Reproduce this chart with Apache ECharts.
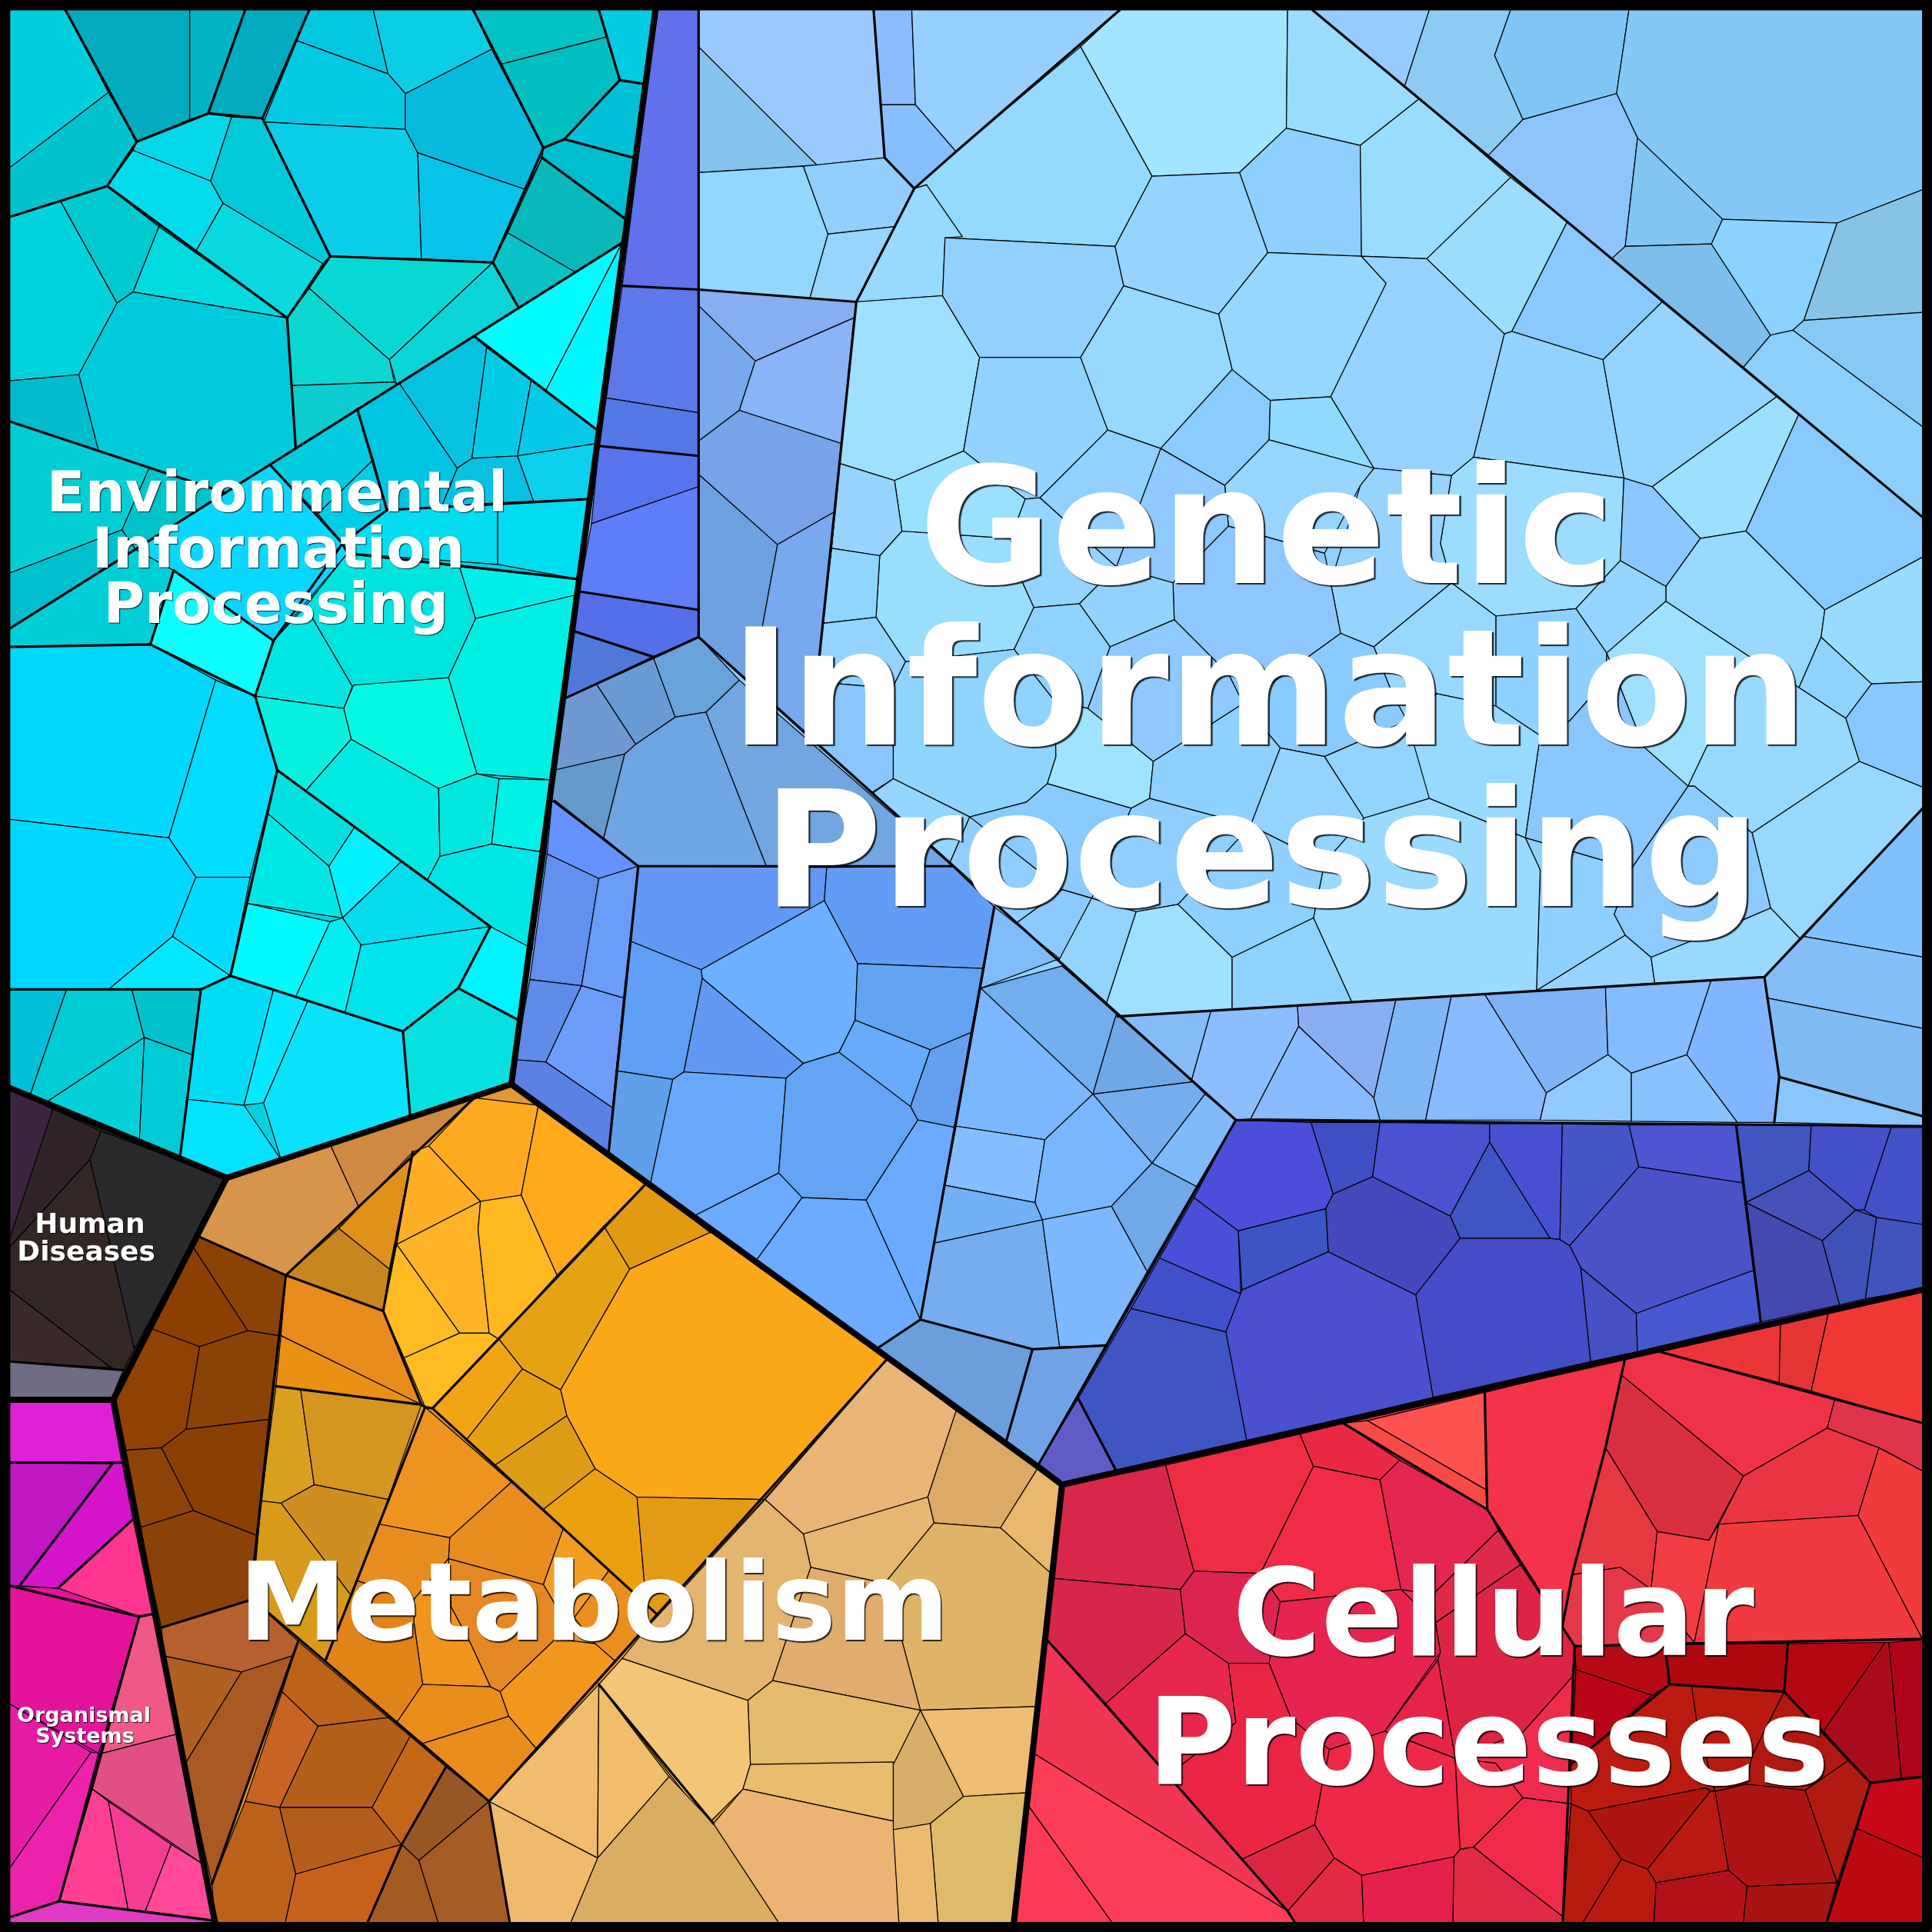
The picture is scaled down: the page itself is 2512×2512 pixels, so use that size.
<!DOCTYPE html>
<html><head><meta charset="utf-8">
<style>html,body{margin:0;padding:0;background:#fff}#c{width:2512px;height:2512px}</style>
<script src="https://cdn.jsdelivr.net/npm/echarts@6/dist/echarts.min.js"></script></head>
<body><div id="c"></div>
<script>
// Each row: cell colour, then its outline (x,y pairs in a 0-1568 plane).
const regions=[
['#04d0e0',[8,8,532,8,415,880,184,956,8,883]],
['#92d0ff',[532,8,1568,8,1568,1045,862,1205,842,1190,415,880,458,567]],
['#4650c8',[1003,909,1568,914,1568,1045,862,1205,842,1190]],
['#e09a30',[184,956,415,880,842,1190,862,1205,822,1568,175,1568,90,1135]],
['#e62c48',[862,1205,1568,1045,1568,1568,822,1568]],
['#2f2528',[8,883,184,956,92,1135,8,1135]],
['#e020b0',[8,1136,92,1136,176,1568,8,1568]]
];
const envCells=[
['#02cfdd',[8,8,53,8,88,75,8,136]],['#02abbd',[53,8,154,8,154,97,111,115]],['#02b3c3',[154,8,199,8,169,92,154,97]],['#02abc0',[199,8,251,8,213,96,169,92]],
['#01c2cf',[8,136,88,75,111,115,87,151,8,176]],['#01d3dc',[8,176,49,163,95,246,64,304,8,309]],['#00c9d0',[49,163,87,151,129,184,108,237,95,246]],['#00dbdf',[129,184,233,258,108,237]],
['#00cbdc',[64,304,95,246,108,237,233,258,240,364,183,400,80,366]],['#00bcce',[8,309,64,304,80,366,8,342]],['#01cfd4',[8,342,121,380,99,430,8,465]],['#00c4cc',[121,380,183,400,110,446,99,430]],['#02bfd0',[8,465,99,430,110,446,8,510]],
['#05d6e8',[111,115,169,92,188,95,171,147,108,122]],['#02dcec',[108,122,171,147,181,165,159,204,87,151]],['#01c9d8',[188,95,213,96,268,208,262,214,181,165,171,147]],['#08d9e0',[181,165,262,214,233,258,159,204]],
['#02c7df',[251,8,303,8,315,60,241,33]],['#0bcee5',[303,8,384,8,399,40,329,76,315,60]],['#04c9e2',[241,33,315,60,329,76,329,105,214,99]],['#0bcde9',[214,99,329,105,339,124,342,210,268,208]],['#07bade',[329,76,399,40,441,120,440,128,427,154,339,124,329,105]],['#07c3ea',[339,124,427,154,400,213,342,210]],
['#02c2c5',[384,8,486,8,492,30,407,52]],['#01bec2',[407,52,492,30,503,65,458,113,441,120]],['#02cbe3',[486,8,530,8,522,68,503,65]],['#02bfd8',[503,65,522,68,514,128,458,113]],['#00bccf',[441,120,458,113,514,128,508,178,440,128]],['#0ab8bc',[440,128,508,178,505,197,467,221,412,189]],['#08c2c8',[412,189,467,221,421,250,400,213]],
['#08d8d4',[268,208,400,213,316,292,251,234]],['#0bd4d8',[400,213,421,250,322,312,316,292]],['#0cd6d0',[233,258,251,234,316,292,320,310,237,313]],['#0dcdd0',[237,313,320,310,322,312,240,364]],
['#01fdff',[385,273,505,197,443,317]],['#00f7fe',[505,197,486,350,443,317]],['#06c2e0',[324,311,385,273,395,282,383,372,371,380]],['#04cbe5',[395,282,431,309,420,370,383,372]],['#06c8e8',[431,309,486,350,484,360,420,370]],['#0ccfec',[420,370,484,360,478,405,433,407]],['#08c0e2',[371,380,383,372,420,370,433,407,358,412]],['#00c5e2',[290,332,324,311,371,380,358,412,314,414]],
['#02cce0',[219,377,290,332,303,373,258,417]],['#02cde9',[258,417,303,373,314,414,278,441]],['#0ad7ff',[110,446,219,377,278,441,282,449,222,520,141,463]],['#03dcf1',[314,414,404,408,404,458,282,449,278,441]],['#02dcf2',[404,408,478,405,469,470,404,458]],
['#0cfeff',[122,523,141,463,222,520,207,565]],['#01cfd8',[8,510,110,446,141,463,122,523,8,525]],['#02e6e4',[222,520,248,492,286,557,279,575,207,565]],['#00e4e0',[248,492,282,449,373,460,386,502,364,550,286,557]],['#02eeea',[373,460,469,470,467,483,386,502]],['#01f0e5',[386,502,467,483,450,633,387,628,364,550]],
['#05f8e2',[287,556,364,550,387,628,356,640,285,600,279,575]],['#07f0e0',[207,565,279,575,285,600,248,642,225,625]],['#01e9e2',[248,642,285,600,356,640,357,695,347,714]],['#02e8e0',[356,640,387,628,405,632,399,685,357,695]],['#02f0e5',[405,632,449,633,443,692,399,685]],['#00e6e6',[347,714,357,695,399,685,443,692,432,770,398,752]],
['#00d9fd',[8,525,122,523,175,552,137,680,8,665]],['#01dcff',[175,552,207,565,225,625,203,712,159,712,137,680]],['#00d9ff',[8,665,137,680,159,712,140,760,88,803,8,803]],['#00dcff',[159,712,203,712,187,792,140,760]],['#01e8ff',[88,803,140,760,187,792,163,803]],
['#02e0e0',[225,625,288,671,267,703,217,660]],['#00e8e6',[217,660,267,703,278,745,200,733]],['#02f0ff',[288,671,326,699,278,745,267,703]],['#02dcec',[326,699,398,752,293,767,278,745]],['#00fbff',[200,733,268,748,240,809,187,792]],['#02eef0',[268,748,278,745,293,767,280,822,240,809]],['#02e4ec',[293,767,398,752,372,802,327,837,280,822]],['#00f4ff',[398,752,432,770,421,828,372,802]],['#07e0e0',[372,802,421,828,415,880,333,907,327,837]],
['#02ddf5',[163,803,187,792,222,803,198,897,150,892]],['#05e8ff',[222,803,250,812,214,895,198,897]],['#0ae2fc',[250,812,327,837,333,907,228,941,214,895]],['#04e2ff',[150,892,198,897,228,941,184,956,146,940]],
['#02c0d8',[8,803,54,803,24,890,8,883]],['#01cbd4',[54,803,107,803,117,842,37,895,24,890]],['#01c2cc',[107,803,163,803,156,856,117,842]],['#02cbd8',[117,842,156,856,146,940,113,927]],['#03d0d9',[37,895,117,842,113,927]]
];
const stripCells=[
['#6170ed',[533,8,567,8,567,235,505,232]],['#5c78e9',[505,232,567,235,567,335,492,323]],['#5578e8',[492,323,567,335,567,370,486,362]],['#5773ee',[486,362,567,370,567,395,480,425]],['#5f7df8',[480,425,567,395,567,495,470,480]],['#546fe9',[470,480,567,495,567,517,530,533,465,512]],['#4e78da',[465,512,530,533,458,567]]
];
const topCells=[
['#9ac9ff',[567,8,709,8,718,128,663,134,567,38]],['#85c3ec',[567,38,663,134,567,140]],['#93d7fe',[567,140,652,135,672,190,657,243,567,235]],['#92cffc',[652,135,718,128,742,153,734,183,672,190]],['#97d5fc',[672,190,734,183,695,245,657,243]],
['#8abcff',[709,8,740,8,743,85,715,85]],['#86bfff',[715,85,743,85,776,123,742,153,718,128]],['#97cfff',[740,8,909,8,776,123,743,85]],
['#96ccff',[1065,8,1160,8,1140,70]],['#8ecbf3',[1160,8,1226,8,1213,45,1236,97,1208,126,1140,70]],['#80c6f5',[1226,8,1322,8,1312,76,1236,97,1213,45]],['#85c7f5',[1322,8,1568,8,1568,151,1491,181,1398,178,1329,112,1312,76]],['#8ec4fa',[1236,97,1312,76,1329,112,1319,200,1308,210,1208,126]],['#82c4f2',[1329,112,1398,178,1389,198,1319,200]],['#7dbfea',[1308,210,1319,200,1389,198,1437,272,1415,298]],['#8bd2ff',[1398,178,1491,181,1464,260,1455,268,1437,272,1389,198]],['#88c3e3',[1491,181,1568,151,1568,253,1464,260]],['#88c9f4',[1455,268,1464,260,1568,253,1568,352]],['#8ccff8',[1415,298,1437,272,1455,268,1568,352,1568,426]]
];
const mainCells=[
['#a3e4ff',[909,8,1045,8,1044,104,1006,140,935,143,877,38]],['#99dcff',[1045,8,1065,8,1152,80,1104,118,1044,104]],['#94d9ff',[776,123,877,38,935,143,905,200,767,193,752,150,742,153]],['#98d9ff',[742,153,752,150,781,192,767,193,765,240,695,245]],
['#9fdfff',[695,245,765,240,795,290,782,366,726,390,681,376]],['#93d0ff',[767,193,905,200,912,232,877,290,795,290,765,240]],['#96d3ff',[935,143,1006,140,1029,205,989,255,912,232,905,200]],['#8fcfff',[1006,140,1044,104,1104,118,1105,208,1029,205]],['#9adcff',[1104,118,1152,80,1226,144,1158,210,1105,208]],['#96d6ff',[1029,205,1105,208,1125,230,1080,322,1031,325,1000,300,989,255]],
['#96d1ff',[1125,230,1105,208,1158,210,1221,271,1196,371,1178,386,1115,380,1080,322]],['#9cdcff',[1226,144,1272,180,1227,269,1221,271,1158,210]],['#89c9ff',[1272,180,1349,245,1301,292,1227,269]],['#92d2ff',[1221,271,1227,269,1301,292,1318,388,1196,371]],['#94d4ff',[1301,292,1349,245,1442,322,1341,395,1321,393,1318,388]],['#9cdfff',[1341,395,1442,322,1460,336,1417,431,1380,437]],['#88c9ff',[1460,336,1568,426,1568,448,1481,495,1417,431]],
['#92d2ff',[782,366,795,290,877,290,899,349,844,404,832,405]],['#98d7ff',[877,290,912,232,989,255,1000,300,942,364,899,349]],['#8bcbff',[1000,300,1031,325,1030,357,994,394,942,364]],['#90daff',[1031,325,1080,322,1115,380,1030,357]],['#9cdcff',[1196,371,1318,388,1315,455,1279,494,1214,500,1178,473,1169,441,1178,386]],['#96d4ff',[1115,380,1178,386,1169,441,1178,473,1115,525,1088,514,1080,473,1104,394]],
['#8cc6ff',[1318,388,1341,395,1380,437,1352,476,1315,455]],['#98d8ff',[1352,476,1380,437,1417,431,1481,495,1478,517,1460,558,1420,533,1352,488]],['#94d4ff',[1315,455,1352,476,1352,488,1304,530,1279,494]],['#9fe0ff',[1352,488,1420,533,1370,638,1334,606,1304,530]],['#8fd2ff',[1478,517,1519,555,1498,583,1460,558]],['#99dbff',[1481,495,1568,448,1568,553,1519,555,1478,517]],['#88c7ff',[1519,555,1568,553,1568,642,1509,618,1498,583]],['#9ad9ff',[1420,533,1460,558,1498,583,1509,618,1422,676,1375,638,1370,638]],['#98d8ff',[1509,618,1568,642,1568,648,1461,762,1437,737,1422,676]],
['#8ccaff',[1370,638,1375,638,1422,676,1437,737,1416,746,1340,777,1319,759,1310,742,1324,705]],['#8ed0ff',[1214,500,1279,494,1304,530,1304,551,1274,585,1250,597,1214,573]],['#8ac7ff',[1304,530,1334,606,1370,638,1324,705,1238,680,1250,597,1274,585,1304,551]],['#90d0ff',[1238,680,1324,705,1310,742,1319,759,1247,804,1250,706]],['#96d4ff',[1319,759,1340,777,1343,798,1247,804]],['#9ad9ff',[1340,777,1416,746,1437,737,1461,762,1432,793,1343,798]],
['#98d7ff',[1115,525,1178,473,1214,500,1214,573,1166,563,1130,563]],['#8acbff',[1088,514,1115,525,1130,563,1142,585,1075,614,1039,607,1009,571]],['#96d5ff',[994,394,1030,357,1115,380,1104,394,1075,449,997,427]],['#8ec9ff',[942,364,994,394,997,427,952,473,906,460]],['#8ec7ff',[997,427,1075,449,1080,473,1088,514,1009,571,997,547,953,503,952,473]],['#92d1ff',[899,349,942,364,906,460,844,404]],
['#94d5ff',[832,405,844,404,906,460,876,490,839,493,829,471,820,437]],['#93d2ff',[876,490,906,460,952,473,953,503,901,525]],['#90d2ff',[839,493,876,490,901,525,883,575,856,569,823,527]],['#9adeff',[732,431,820,437,829,471,839,493,823,527,735,537,711,501,714,451]],['#9ae0ff',[726,390,782,366,832,405,820,437,732,431]],['#97d3ff',[681,376,726,390,732,431,714,451,675,445]],['#8fd5ff',[675,445,714,451,711,501,667,506]],['#92d4ff',[667,506,711,501,735,537,725,557,705,557,681,555,662,555]],['#8ac5ff',[662,555,681,555,705,557,725,606,725,632,708,643,658,600]],
['#8fd4ff',[725,557,735,537,823,527,856,569,857,614,850,636,833,651,787,663,725,632,725,606]],['#9fe3ff',[856,569,883,575,936,618,933,648,918,656,850,636,857,614]],['#8ecaff',[901,525,953,503,997,547,1009,571,936,618,883,575]],['#8ed0ff',[936,618,1009,571,1039,607,1015,670,933,648]],['#92d3ff',[1039,607,1075,614,1107,664,1075,700,1015,670]],['#93d3ff',[1075,614,1142,585,1166,563,1160,648,1107,664]],['#98d9ff',[1142,585,1166,563,1214,573,1250,597,1238,680,1160,648]],['#9bdaff',[1107,664,1160,648,1238,680,1250,706,1247,804,1097,813,1066,745,1075,700]],
['#8ed0ff',[1015,670,1075,700,1066,745,1000,777,956,734]],['#8ecfff',[933,648,1015,670,956,734,922,740,886,729,918,656]],['#8acbff',[850,636,918,656,886,729,862,722,787,663,833,651]],['#9fdfff',[922,740,956,734,1000,777,1000,819,907,825,898,814]],['#8fd2ff',[1000,777,1066,745,1097,813,1000,819]],['#92d3ff',[886,729,922,740,898,814,907,825,859,780,862,722]],
['#93d5ff',[708,644,725,632,787,663,771,700]],['#90ceff',[787,663,862,722,825,749,771,700]],['#8cc9ff',[862,722,886,729,859,780,825,749]]
];
const leftCells=[
['#86aef0',[567,235,695,245,693,258,613,293,567,248]],['#79a8ed',[567,248,613,293,600,333,567,358]],['#89b4f8',[613,293,693,258,683,360,600,333]],['#78a3e8',[600,333,683,360,678,415,631,442,567,385,567,358]],['#6fa0e0',[567,385,631,442,610,556,567,517]],['#78a8ee',[631,442,678,415,658,600,610,556]]
];
const bandCells=[
['#85bcf8',[907,825,983,820,967,877]],['#8cbdff',[983,820,1053,816,1054,833,1015,908,1003,909,967,877]],['#8aadf2',[1053,816,1133,811,1115,891,1054,833]],['#88baff',[1054,833,1115,891,1120,909,1015,908]],['#80b6f5',[1133,811,1178,808,1157,909,1120,909,1115,891]],['#88baff',[1178,808,1205,807,1255,887,1250,909,1157,909]],['#7fb3f5',[1205,807,1303,801,1305,856,1255,887]],['#85bbff',[1303,801,1389,795,1369,856,1324,871,1305,856]],['#82b5ff',[1389,795,1432,793,1444,874,1440,911,1410,911,1369,856]],['#92c9ff',[1255,887,1305,856,1324,871,1324,910,1250,909]],['#8ac2ff',[1324,871,1369,856,1410,911,1324,910]],
['#80c1fc',[1464,760,1568,648,1568,778]],['#83bef8',[1432,793,1464,760,1568,778,1568,836,1434,810]],['#7fbaf2',[1434,810,1568,836,1568,908,1444,874]],['#8ac5fb',[1444,874,1568,908,1568,914,1440,911]]
];
const centreCells=[
['#7099d2',[458,567,484,555,516,604,507,612,450,625]],['#699cd4',[484,555,530,533,548,582,516,604]],['#6aa2da',[530,533,567,517,600,552,573,578,548,582]],['#649bcb',[450,625,507,612,490,680,448,650]],['#6fa5e2',[516,604,548,582,573,578,622,703,518,703,490,680,507,612]],['#72a6e1',[573,578,600,552,773,703,622,703]],
['#6692ff',[448,650,518,703,486,713,444,693]],['#6390ef',[444,693,486,713,472,800,430,795]],['#6a9cf8',[486,713,518,703,506,810,472,800]],['#5f8ce8',[430,795,472,800,443,862,418,860]],['#6d9cfb',[472,800,506,810,497,899,443,862]],['#5a82e5',[418,860,443,862,497,899,494,935,416,880]],
['#6398f7',[518,703,671,704,669,731,569,787,512,764]],['#639cf5',[671,704,773,703,807,736,798,786,696,782,669,731]],['#6db0ff',[569,787,669,731,696,782,694,828,681,854,652,863,570,794]],['#62a3f2',[696,782,798,786,788,838,755,852,694,828]],['#609ff5',[512,764,569,787,570,794,555,870,546,876,500,869]],['#6498f5',[570,794,652,863,638,875,555,870]],['#60a0ea',[500,869,546,876,528,960,494,935]],['#69a8fb',[555,870,638,875,632,952,563,987,528,960,546,876]],['#65a3f5',[652,863,681,854,739,898,745,909,703,974,651,972,632,952,638,875]],['#68abfb',[681,854,694,828,755,852,739,898]],['#649ff0',[755,852,788,838,775,915,745,909,739,898]],['#6cabff',[563,987,632,952,651,972,613,1024]],['#6cabff',[651,972,703,974,747,1071,711,1095,613,1024]],['#6aabff',[703,974,745,909,775,915,747,1071]],
['#80bcf8',[807,736,860,778,796,802]],['#72adef',[796,802,862,784,906,823,887,888]],['#70a8e6',[906,823,968,878,887,888]],['#76adef',[887,888,968,878,978,888,935,944]],['#80baf8',[978,888,1003,909,971,963,935,944]],['#7cb6ff',[796,802,887,888,848,925,776,914]],['#85bdff',[776,914,848,925,840,976,767,962]],['#7ab6ff',[848,925,887,888,935,944,902,979,846,990,840,976]],['#70a8e8',[935,944,971,963,931,1032,902,979]],['#72b0f5',[767,962,840,976,846,990,758,1009]],['#76adef',[758,1009,846,990,860,1093,838,1095,747,1071]],['#7db8ff',[846,990,902,979,931,1032,897,1092,860,1093]],['#6b9fdc',[711,1095,747,1071,838,1095,816,1172]],['#6fa3e6',[838,1095,897,1092,842,1190,816,1172]]
];
const darkBlueCells=[
['#4a4ed8',[1003,909,1064,911,1082,969,1076,981,1005,999,969,972]],['#3e4fc4',[1064,911,1120,911,1114,955,1082,969]],['#4a52cf',[1120,911,1209,912,1209,927,1177,987,1114,955]],['#4850d2',[1209,912,1268,912,1266,1006,1258,1005,1209,927]],['#3e55c4',[1209,927,1258,1005,1185,1005,1177,987]],['#4555c8',[1268,912,1322,913,1330,947,1274,1011,1266,1006]],['#4e55d2',[1322,913,1409,913,1414,960,1330,947]],['#4a52c8',[1330,947,1414,960,1423,1031,1328,1066,1283,1029,1274,1011]],['#4448bc',[1114,955,1177,987,1185,1005,1149,1051,1078,1016,1076,981,1082,969]],['#454cc8',[1185,1005,1258,1005,1266,1006,1274,1011,1283,1029,1291,1105,1163,1134,1149,1051]],['#4550c4',[1283,1029,1328,1066,1329,1097,1291,1105]],['#4858d0',[1328,1066,1423,1031,1429,1073,1329,1097]],['#3d55c4',[1005,999,1076,981,1078,1016,1008,1047]],['#4850d8',[969,972,1005,999,1007,1050,941,1021]],['#3f50c8',[941,1021,1007,1050,995,1081,918,1062]],['#4055c4',[918,1062,995,1081,1012,1170,906,1194,875,1135]],['#4a50d0',[1008,1047,1078,1016,1149,1051,1163,1134,1012,1170,995,1081]],
['#3f55c0',[1409,913,1470,913,1468,950,1417,976]],['#4450c8',[1470,913,1535,915,1513,982,1506,982,1468,950]],['#4450c8',[1535,915,1568,915,1568,995,1523,988,1513,982]],['#4550b8',[1417,976,1468,950,1506,982,1479,1007]],['#4449b0',[1417,976,1479,1007,1493,1059,1429,1073]],['#3f50b8',[1479,1007,1506,982,1523,988,1514,1054,1493,1059]],['#4053be',[1523,988,1568,995,1568,1045,1514,1054]],['#5f5cc8',[842,1190,875,1135,906,1194,862,1205]]
];
const metabolismCells=[
['#d7944b',[184,956,268,929,291,979,232,1035,160,1003]],['#cf8b42',[268,929,385,891,291,979]],
['#8a4205',[160,1003,232,1035,226,1084,201,1080,156,1011]],['#8b3f00',[156,1011,201,1080,162,1093,122,1078]],['#8f4204',[122,1078,162,1093,151,1160,131,1175,102,1177,92,1135]],['#8a4306',[162,1093,201,1080,226,1084,218,1152,151,1160]],['#8a3f02',[151,1160,218,1152,208,1246,157,1226,131,1175]],['#8d4307',[102,1177,131,1175,157,1226,113,1240]],['#8b4208',[113,1240,157,1226,208,1246,203,1298,131,1321]],
['#b5602e',[131,1321,205,1298,242,1332,237,1344,196,1357,133,1344]],['#b06023',[133,1344,196,1357,150,1432]],['#a85a22',[196,1357,237,1344,172,1529,150,1432]],
['#bc6219',[229,1373,242,1332,315,1394,258,1401]],['#c86324',[229,1373,258,1401,227,1467,199,1462]],['#b35f18',[258,1401,315,1394,333,1409,302,1467,227,1467]],['#bb611a',[199,1462,227,1467,240,1521,230,1568,175,1568,172,1529]],['#b45c19',[227,1467,302,1467,326,1497,240,1521]],['#c8601b',[240,1521,326,1497,295,1568,230,1568]],['#c46618',[333,1409,362,1434,326,1497,302,1467]],['#985826',[362,1434,397,1462,340,1510,326,1497]],['#a45b22',[326,1497,340,1510,358,1568,295,1568]],['#a55c25',[340,1510,397,1462,415,1568,358,1568]],
['#e0911a',[275,997,335,935,316,1030]],['#c88620',[232,1035,275,997,316,1030,311,1064]],['#ffaf25',[335,935,348,930,390,975,322,1010]],['#fdaa20',[348,930,385,891,437,897,423,970,390,975]],['#ffaa1a',[437,897,415,880,525,960,452,1035,423,970]],['#ffb428',[322,1010,390,975,388,998,397,1082,373,1082]],['#ffbb22',[322,1010,373,1082,328,1102,311,1064]],['#ffb920',[390,975,423,970,452,1035,405,1087,397,1082,388,998]],['#ffbb22',[328,1102,373,1082,397,1082,405,1087,351,1143,345,1142]],
['#e29a12',[525,960,577,1000,511,1030,490,995]],['#e5a314',[405,1087,490,995,511,1030,455,1128,424,1111]],['#fba818',[511,1030,577,1000,720,1103,620,1217,517,1215,483,1192,460,1149,455,1128]],['#f2a514',[405,1087,424,1111,379,1168,351,1143]],['#e5a012',[424,1111,455,1128,460,1149,402,1189,379,1168]],['#dd9c15',[460,1149,483,1192,441,1225,402,1189]],['#eba00f',[483,1192,517,1215,523,1285,514,1293,441,1225]],['#e39a14',[517,1215,620,1217,526,1318,523,1285]],
['#e98a1c',[232,1035,311,1064,342,1140,228,1084]],['#e99012',[228,1084,342,1140,224,1125]],['#d9a01f',[224,1125,244,1128,255,1205,228,1220,212,1218]],['#d49620',[244,1128,342,1140,315,1217,255,1205]],['#cf8f20',[255,1205,315,1217,285,1295,264,1267,228,1220]],['#d79a1a',[212,1218,228,1220,264,1267,285,1295,264,1348,205,1298]],
['#ef9320',[345,1142,415,1203,365,1248,308,1237]],['#e98c1f',[415,1203,457,1241,441,1286,364,1265,365,1248]],['#f39d22',[457,1241,494,1275,466,1313,451,1303,441,1286]],['#ec8e1e',[494,1275,514,1293,533,1310,499,1348,483,1334,466,1313]],['#e98c1f',[308,1237,365,1248,364,1265,336,1298,290,1283]],['#e58823',[364,1265,441,1286,451,1303,466,1313,451,1330,406,1373,398,1369,382,1334,366,1304]],['#f0941e',[336,1298,364,1265,366,1304,382,1334,398,1369,343,1367,336,1317]],['#e28418',[290,1283,336,1298,336,1317,343,1367,322,1398,264,1348]],['#e98c1a',[343,1367,398,1369,406,1373,413,1393,343,1415,322,1398]],['#f3961e',[406,1373,451,1330,483,1334,499,1348,435,1419,413,1393]],['#e98c1b',[413,1393,435,1419,397,1462,343,1415]],
['#e8b576',[720,1103,776,1145,753,1215,652,1245,621,1217]],['#dbaa67',[776,1145,842,1192,812,1240,758,1236,753,1215]],['#e8b86e',[842,1192,862,1205,854,1278,812,1240]],['#e6b673',[652,1245,753,1215,758,1236,718,1285,658,1272]],['#e0b468',[758,1236,812,1240,854,1278,841,1385,747,1388,725,1305,718,1285]],['#e3b570',[621,1217,652,1245,658,1272,627,1364,607,1380,505,1346,526,1320]],['#e0ad6f',[658,1272,718,1285,725,1305,747,1388,627,1364]],['#e4bb6c',[627,1364,747,1388,745,1432,609,1432,607,1380]],['#f2c676',[505,1346,607,1380,609,1432,603,1452,575,1480,486,1367]],['#f0bc6d',[397,1462,486,1367,485,1508]],['#efbd6c',[486,1367,543,1442,485,1508]],['#d9ae62',[543,1442,579,1480,637,1568,460,1568,485,1508]],['#e8bd6e',[609,1432,725,1430,725,1478,603,1452]],['#ebb474',[603,1452,725,1478,730,1568,637,1568,579,1480]],['#d5ae6a',[747,1388,782,1458,755,1480,725,1485,725,1432]],['#eebd72',[747,1388,841,1385,834,1455,782,1458]],['#debb6a',[782,1458,834,1455,822,1568,762,1568,755,1480]],['#ebbb70',[725,1485,755,1480,762,1568,730,1568]],['#f0ba6c',[397,1462,485,1508,460,1568,415,1568]]
];
const cellularCells=[
['#f84a44',[1090,1155,1110,1153,1206,1209,1207,1225]],['#fc5250',[1110,1153,1205,1130,1206,1209]],['#f23348',[1205,1130,1319,1102,1268,1335,1207,1225]],['#ec3538',[1347,1097,1445,1075,1444,1122]],['#e43434',[1445,1075,1484,1065,1470,1129,1444,1122]],['#ef3835',[1484,1065,1568,1045,1568,1157,1470,1129]],['#ef3245',[1316,1116,1319,1102,1347,1097,1489,1136,1483,1159,1415,1198]],['#d93040',[1316,1116,1415,1198,1387,1250,1345,1243,1303,1175]],['#e93444',[1415,1198,1483,1159,1525,1175,1508,1230,1395,1237]],['#e0344a',[1489,1136,1568,1157,1568,1198,1525,1175,1483,1159]],['#f03a3c',[1525,1175,1568,1198,1568,1330,1560,1330,1508,1230]],['#f03a40',[1395,1237,1508,1230,1560,1330,1375,1333]],['#e53840',[1303,1175,1345,1243,1340,1290,1315,1272,1276,1278]],['#f23c44',[1345,1243,1387,1250,1395,1237,1375,1333,1340,1290]],['#e53848',[1276,1278,1315,1272,1340,1290,1375,1333,1278,1336,1268,1320]],
['#d9274a',[862,1206,946,1189,969,1275,958,1290,854,1281]],['#ee2d44',[946,1189,1055,1164,1066,1190,1023,1277,969,1275]],['#ea2a45',[1055,1164,1090,1155,1136,1185,1120,1201,1066,1190]],['#ef2b47',[1066,1190,1120,1201,1137,1290,1039,1300,1023,1277]],['#e42650',[1120,1201,1136,1185,1207,1225,1216,1242,1163,1294,1137,1290]],['#dc2a48',[1216,1242,1234,1270,1165,1317,1163,1294]],['#de2444',[1234,1270,1278,1336,1276,1361,1236,1406,1181,1427,1167,1347,1169,1341,1165,1317]],
['#d6264b',[854,1281,958,1290,962,1326,897,1383,848,1329]],['#dd2450',[958,1290,969,1275,1023,1277,1039,1300,1030,1350,997,1350,962,1326]],['#e72450',[1039,1300,1137,1290,1165,1317,1169,1341,1124,1405,1079,1420,1048,1395,1030,1350]],['#e7284c',[897,1383,962,1326,997,1350,1003,1398,948,1441]],['#ea2644',[997,1350,1030,1350,1048,1395,1079,1420,1073,1449,1067,1481,1008,1509,948,1441,1003,1398]],['#ee2848',[1079,1420,1124,1405,1181,1427,1185,1501,1180,1507,1105,1522,1083,1508,1067,1481,1073,1449]],['#e52448',[1124,1405,1167,1347,1181,1427]],['#ee2c46',[1181,1427,1214,1431,1236,1459,1196,1499,1185,1501]],['#f02c4e',[1236,1406,1276,1361,1275,1464,1236,1459,1214,1431,1181,1427]],['#f02a4a',[1236,1459,1275,1464,1269,1556,1217,1516,1196,1499]],['#e02a48',[1196,1499,1217,1516,1269,1556,1268,1568,1179,1568,1180,1507,1185,1501]],['#e5204c',[1105,1522,1180,1507,1179,1568,1107,1568]],['#e42a44',[1083,1508,1105,1522,1107,1568,1056,1568,1045,1551]],['#dc2644',[1008,1509,1067,1481,1083,1508,1045,1551]],
['#f03555',[848,1329,1045,1551,839,1423]],['#fb3d56',[839,1423,1045,1551,1056,1568,908,1568,835,1466]],['#fb3a55',[835,1466,908,1568,822,1568]],
['#b60a15',[1278,1336,1351,1333,1355,1367,1341,1376,1279,1355]],['#ba0418',[1279,1355,1341,1376,1275,1432]],['#af080e',[1351,1333,1451,1334,1448,1373,1355,1367]],['#b30812',[1451,1334,1530,1333,1480,1405,1448,1373]],['#ab0c1c',[1530,1333,1533,1333,1543,1443,1518,1447,1480,1405]],['#b0041a',[1533,1333,1568,1330,1568,1441,1543,1443]],
['#bb1a10',[1355,1367,1373,1368,1377,1397,1392,1454,1384,1451,1289,1470,1275,1464,1275,1432]],['#b81a10',[1373,1368,1448,1373,1422,1425,1417,1448,1392,1454,1377,1397]],['#b11810',[1448,1373,1500,1429,1465,1453,1417,1448,1422,1425]],['#b01a10',[1500,1429,1518,1447,1491,1528,1465,1453]],['#b61a0f',[1275,1464,1289,1470,1316,1509,1280,1568,1268,1568]],['#ad160e',[1289,1470,1384,1451,1388,1454,1337,1517,1316,1509]],['#b81a12',[1388,1454,1392,1454,1403,1518,1344,1528,1337,1517]],['#ad1416',[1392,1454,1417,1448,1465,1453,1491,1528,1418,1531,1403,1518]],['#b81a10',[1316,1509,1337,1517,1344,1528,1342,1568,1280,1568]],['#b3121a',[1344,1528,1403,1518,1418,1531,1414,1568,1342,1568]],['#a81414',[1418,1531,1491,1528,1480,1568,1414,1568]],['#c80818',[1518,1447,1568,1441,1568,1511,1507,1484]],['#bd0a10',[1507,1484,1568,1511,1568,1568,1480,1568]]
];
const humanCells=[
['#3c2340',[8,883,43,900,8,1005]],['#2f2328',[43,900,82,918,73,941,8,1012,8,1005]],['#29292c',[82,918,184,956,109,1095,73,941]],['#332725',[8,1012,73,941,109,1095,100,1112,90,1110,8,1047]],['#3a282a',[8,1047,90,1110,8,1105]],['#716c85',[8,1105,100,1112,90,1136,8,1136]]
];
const organismalCells=[
['#e020d8',[8,1138,90,1138,99,1187,8,1187]],['#c018c4',[8,1187,91,1188,16,1287,8,1287]],['#d514cc',[91,1188,99,1187,108,1233,47,1289,16,1287]],['#ff3592',[47,1289,108,1233,124,1310,113,1312]],['#e5139c',[8,1287,47,1289,113,1312,80,1423,8,1383]],['#e61ca5',[8,1383,74,1422,8,1516]],['#ec22ad',[8,1516,74,1422,80,1423,48,1543,8,1556]],['#ef5887',[113,1312,124,1310,145,1407,83,1423]],['#e05085',[83,1423,145,1407,165,1513,75,1452]],['#ff4095',[75,1452,88,1462,104,1550,48,1543]],['#f53c95',[88,1462,139,1497,118,1551,104,1550]],['#ff4898',[139,1497,165,1513,176,1559,118,1551]],['#df3ac5',[48,1543,176,1559,178,1568,8,1568,8,1556]]
];
const groupBorders=[
[53,8,111,115,169,92,199,8],[169,92,213,96,251,8],[8,176,87,151,111,115],[87,151,233,258,268,208,213,96],[268,208,400,213,441,120,384,8],[441,120,458,113,503,65,486,8],[458,113,514,128],[440,128,508,178],[400,213,421,250],[233,258,240,364],[8,510,505,197],[8,342,183,400],[290,332,314,414,478,405],[385,273,486,350],[219,377,278,441,222,520,207,565],[141,463,222,520],[122,523,141,463],[8,525,122,523,207,565,225,625,398,752,372,802,327,837,187,792,163,803,146,940],[8,803,163,803],[225,625,187,792],[372,802,421,828],[278,441,282,449,469,470],[327,837,333,907],[503,65,522,68],[278,441,314,414],
[567,8,567,517],[458,567,567,517,1003,909],[505,232,567,235],[486,362,567,370],[470,480,567,495],[465,512,530,533],[567,235,695,245,742,153,718,128,709,8],[742,153,776,123,909,8],[1065,8,1568,426],[695,245,658,600],[907,825,1432,793,1568,648],[1432,793,1444,874,1440,911],[1444,874,1568,908],[1003,909,1568,914],[518,703,773,703],[450,650,518,703,494,935],[807,736,747,1071,711,1095],[747,1071,838,1095,816,1172],[838,1095,897,1092],[1003,909,842,1190],[1409,913,1417,976,1429,1073],[875,1135,906,1194],
[160,1003,232,1035,385,891],[232,1035,203,1298],[131,1321,205,1298,397,1462],[242,1332,172,1529],[232,1035,311,1064,342,1140,345,1142,351,1143,525,960],[335,935,311,1064],[224,1125,342,1140],[345,1142,264,1348],[351,1143,533,1310],[720,1103,397,1462,415,1568],[362,1434,326,1497,295,1568],[486,1367,579,1480],[525,960,577,1000],
[1090,1155,1207,1225,1278,1336],[1205,1130,1207,1225],[848,1329,897,1383,948,1441,1008,1509,1045,1551,1056,1568],[1278,1336,1568,1330],[1278,1336,1268,1568],[1319,1102,1303,1175,1276,1278,1268,1320],[1347,1097,1568,1157],[1351,1333,1355,1367,1448,1373,1451,1334],[1355,1367,1275,1432],[1448,1373,1518,1447,1480,1568],[1518,1447,1568,1441],
[8,1105,100,1112],[8,1187,99,1187],[16,1287,91,1188],[47,1289,108,1233],[8,1287,113,1312,124,1310],[113,1312,48,1543,8,1556],[48,1543,176,1559]
];
const majorBorders=[
[532,8,415,880,842,1190,862,1205,1568,1045],[8,883,184,956,415,880],[184,956,92,1136,176,1568],[8,1136,92,1136],[862,1205,822,1568]
];
const frame=[4,4,1564,4,1564,1564,4,1564,4,4];
const labelLines=[
['Genetic',1028,439,210],['Information',1030,570,211],['Processing',1024,701,211],
['Cellular',1212,1318,157],['Processes',1208,1423,157],
['Metabolism',482,1308,141],
['Environmental',225,403,73],['Information',226,449,73],['Processing',224,494,73],
['Human',73,995,36],['Diseases',70,1017,36],
['Organismal',68,1393,27],['Systems',69,1410,27]
];

const pts=(flat,api)=>{const o=[];for(let i=0;i<flat.length;i+=2)o.push(api.coord([flat[i],flat[i+1]]));return o;};
function cellSeries(rows,lw){
  return {type:'custom',coordinateSystem:'cartesian2d',silent:true,clip:false,
    data:rows.map(r=>[r[1][0],r[1][1]]),
    renderItem:(p,api)=>{const r=rows[p.dataIndex];
      return {type:'polygon',shape:{points:pts(r[1],api)},style:{fill:r[0],stroke:lw?'#000':r[0],lineWidth:lw||0}};}};
}
function lineSeries(rows,lw){
  return {type:'custom',coordinateSystem:'cartesian2d',silent:true,clip:false,
    data:rows.map(r=>[r[0],r[1]]),
    renderItem:(p,api)=>({type:'polyline',shape:{points:pts(rows[p.dataIndex],api)},
      style:{fill:null,stroke:'#000',lineWidth:lw,lineJoin:'round',lineCap:'round'}})};
}
const labelSeries={type:'custom',coordinateSystem:'cartesian2d',silent:true,clip:false,z:20,
  data:labelLines.map(l=>[l[1],l[2]]),
  renderItem:(p,api)=>{const l=labelLines[p.dataIndex],c=api.coord([l[1],l[2]]);
    return {type:'text',x:c[0],y:c[1],style:{text:l[0],fill:'#fff',font:'bold '+l[3]+'px "DejaVu Sans"',
      align:'center',verticalAlign:'middle',textShadowColor:'rgba(0,0,0,0.8)',textShadowBlur:1,
      textShadowOffsetX:Math.max(1,l[3]/90),textShadowOffsetY:Math.max(1,l[3]/90)}};}};

const thin=1.2;
const chart=echarts.init(document.getElementById('c'),null,{renderer:'canvas',width:2512,height:2512});
chart.setOption({animation:false,backgroundColor:'#000',
  grid:{left:0,right:0,top:0,bottom:0},
  xAxis:{type:'value',min:0,max:1568,show:false},
  yAxis:{type:'value',min:0,max:1568,inverse:true,show:false},
  series:[cellSeries(regions,0),
    cellSeries(envCells,thin),cellSeries(stripCells,thin),cellSeries(topCells,thin),cellSeries(mainCells,thin),cellSeries(leftCells,thin),cellSeries(bandCells,thin),cellSeries(centreCells,thin),cellSeries(darkBlueCells,thin),
    cellSeries(metabolismCells,thin),cellSeries(cellularCells,thin),cellSeries(humanCells,thin),cellSeries(organismalCells,thin),
    lineSeries(groupBorders,3.2),lineSeries(majorBorders,8),lineSeries([frame],13),labelSeries]
});
</script></body></html>
